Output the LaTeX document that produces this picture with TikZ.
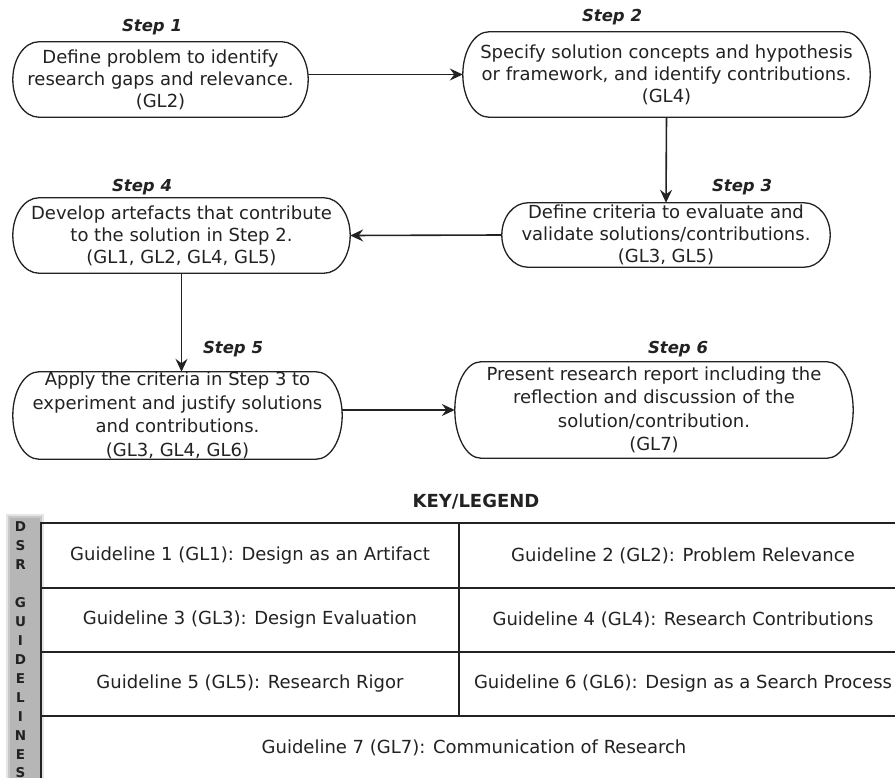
\documentclass[tikz,border=0pt]{standalone}
\usepackage{fontspec}
\setmainfont{DejaVu Sans}
\usetikzlibrary{arrows.meta,calc}

\definecolor{ink}{HTML}{222222}
\definecolor{bargray}{HTML}{B6B6B6}

\newcommand{\bodyfont}{\fontsize{18}{22}\selectfont}
\newcommand{\bodyfontwide}{\fontsize{18}{23.5}\selectfont}

% pill outline with elliptical ends around a rectangular node
\newcommand{\pillpath}[2]{%
  \draw[pillline] let \p1=(#1.north west), \p2=(#1.south east),
      \n1={(\y1-\y2)/2} in
    (\x1+#2,\y1) -- (\x2-#2,\y1)
    arc[start angle=90, end angle=-90, x radius=#2pt, y radius=\n1]
    -- (\x1+#2,\y2)
    arc[start angle=270, end angle=90, x radius=#2pt, y radius=\n1]
    -- cycle;}

\tikzset{
  stepbox/.style={rectangle, draw=none, inner sep=0pt, align=center,
    text=ink, font=\bodyfont},
  pillline/.style={draw=ink, line width=1.3pt},
  steplabel/.style={anchor=base, text=ink,
    font=\fontsize{16.5}{20}\selectfont\bfseries\itshape},
  flow/.style={draw=ink, line width=1.6pt,
    -{Stealth[length=13pt, width=12pt, inset=4.5pt]}},
  cell/.style={rectangle, draw=ink, line width=1.2pt, inner sep=0pt,
    text=ink, font=\bodyfont},
  vlet/.style={text=ink, inner sep=0pt,
    font=\fontsize{13.5}{15}\selectfont\bfseries},
}

\begin{document}
\begin{tikzpicture}[x=1pt, y=-1pt]
\useasboundingbox (0,0) rectangle (895,778);
\clip (0,0) rectangle (895,778);
\fill[white] (0,0) rectangle (895,778);

% process steps
\node[stepbox, minimum width=295pt, minimum height=75pt] (s1) at (160.5,79.5)
  {Define problem to identify\\research gaps and relevance.\\(GL2)};
\node[stepbox, minimum width=407pt, minimum height=85pt] (s2) at (666.5,74.5)
  {Specify solution concepts and hypothesis\\or framework, and identify contributions.\\(GL4)};
\node[stepbox, minimum width=328pt, minimum height=64pt] (s3) at (666,235)
  {Define criteria to evaluate and\\validate solutions/contributions.\\(GL3, GL5)};
\node[stepbox, minimum width=337pt, minimum height=75pt] (s4) at (181.5,235.5)
  {Develop artefacts that contribute\\to the solution in Step 2.\\(GL1, GL2, GL4, GL5)};
\node[stepbox, font=\bodyfontwide, minimum width=329pt, minimum height=87pt] (s5) at (177.5,415.5)
  {Apply the criteria in Step 3 to\\experiment and justify solutions\\and contributions.\\(GL3, GL4, GL6)};
\node[stepbox, font=\bodyfontwide, minimum width=398pt, minimum height=96pt] (s6) at (654,410)
  {Present research report including the\\reflection and discussion of the\\solution/contribution.\\(GL7)};

\pillpath{s1}{26}
\pillpath{s2}{26}
\pillpath{s3}{26}
\pillpath{s4}{26}
\pillpath{s5}{26}
\pillpath{s6}{26}

% step captions
\node[steplabel] (l1) at (152,32) {Step 1};
\node[steplabel] (l2) at (612,22) {Step 2};
\node[steplabel] (l3) at (742,192) {Step 3};
\node[steplabel] (l4) at (142,192) {Step 4};
\node[steplabel] (l5) at (233,353) {Step 5};
\node[steplabel] (l6) at (678,353) {Step 6};

% flow between steps
\draw[flow] (s2.west -| s1.east) -- (s2.west);
\draw[flow] (s2.south) -- (s3.north);
\draw[flow] (s3.west) -- (s4.east);
\draw[flow] (s4.south) -- (s4.south |- s5.north);
\draw[flow] (s5.east |- s6.west) -- (s6.west);

% legend
\node[anchor=base, text=ink, font=\fontsize{18}{22}\selectfont\bfseries] (key) at (476,507) {KEY/LEGEND};

% side bar with its soft edge
\fill[bargray, opacity=0.35] (6,514) rectangle (44,790);
\fill[bargray, opacity=0.6] (8,516) rectangle (42,790);
\fill[bargray] (10,518) rectangle (40,790);
\foreach \ch/\yy [count=\i] in {D/527,S/546,R/565,G/603,U/622,I/641,D/660,E/679,L/698,I/717,N/736,E/755,S/773}
  \node[vlet] (v\i) at (20.5,\yy) {\ch};

% guideline table
\node[cell, minimum width=418pt, minimum height=65pt] (g1) at (250,555.5) {Guideline 1 (GL1): Design as an Artifact};
\node[cell, minimum width=448pt, minimum height=65pt] (g2) at (683,555.5) {Guideline 2 (GL2): Problem Relevance};
\node[cell, minimum width=418pt, minimum height=64pt] (g3) at (250,620) {Guideline 3 (GL3): Design Evaluation};
\node[cell, minimum width=448pt, minimum height=64pt] (g4) at (683,620) {Guideline 4 (GL4): Research Contributions};
\node[cell, minimum width=418pt, minimum height=64pt] (g5) at (250,684) {Guideline 5 (GL5): Research Rigor};
\node[cell, minimum width=448pt, minimum height=64pt] (g6) at (683,684) {Guideline 6 (GL6): Design as a Search Process};
\node[cell, minimum width=866pt, minimum height=64pt] (g7) at (474,748) {Guideline 7 (GL7): Communication of Research};
\end{tikzpicture}
\end{document}
